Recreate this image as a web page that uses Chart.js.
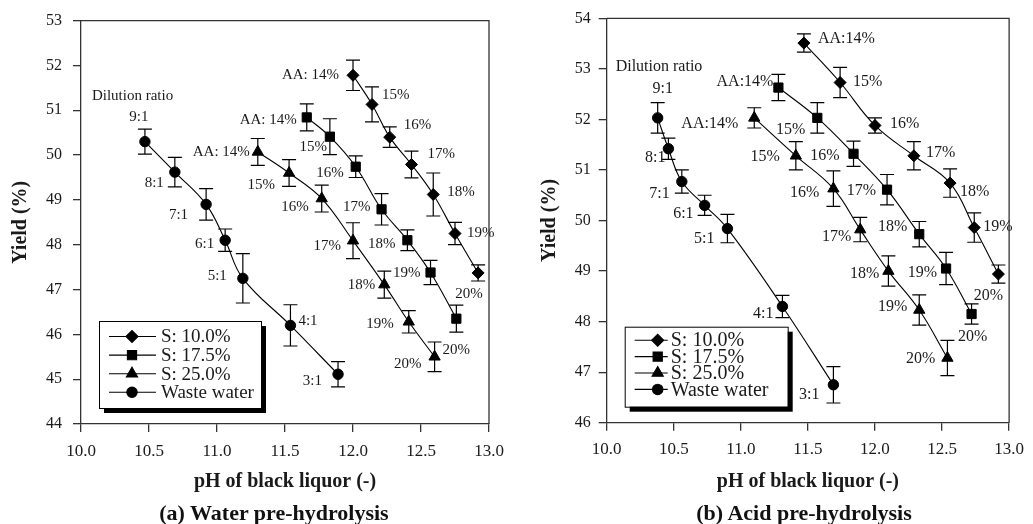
<!DOCTYPE html>
<html>
<head>
<meta charset="utf-8">
<script src="https://cdn.jsdelivr.net/npm/chart.js@4.4.1/dist/chart.umd.min.js"></script>
<style>
  body { margin: 0; background: #fff; width: 1033px; height: 524px; position: relative; overflow: hidden; font-family: "Liberation Serif", serif; }
  .panel { position: absolute; top: 0; height: 524px; }
  .cap { position: absolute; top: 499px; width: 300px; text-align: center; font-weight: bold; font-size: 22px; line-height: 28px; color: #111; }
</style>
</head>
<body>
<div class="panel" style="left:0;width:516px"><canvas id="water" width="516" height="524"></canvas></div>
<div class="panel" style="left:516px;width:517px"><canvas id="acid" width="517" height="524"></canvas></div>
<div class="cap" style="left:124px">(a) Water pre-hydrolysis</div>
<div class="cap" style="left:654px">(b) Acid pre-hydrolysis</div>
<script>
// ---- data ----
const seriesNames = ['S: 10.0%', 'S: 17.5%', 'S: 25.0%', 'Waste water'];
const aaLabelsWater = ['AA: 14%', '15%', '16%', '17%', '18%', '19%', '20%'];
const aaLabelsAcid = ['AA:14%', '15%', '16%', '17%', '18%', '19%', '20%'];
const dilutionLabels = ['9:1', '8:1', '7:1', '6:1', '5:1', '4:1', '3:1'];

// (a) water pre-hydrolysis
const waterPhS10 = [12.00, 12.14, 12.27, 12.43, 12.59, 12.75, 12.92];
const waterYieldS10 = [51.78, 51.13, 50.40, 49.79, 49.12, 48.25, 47.37];
const waterErrS10 = [0.34, 0.39, 0.23, 0.30, 0.48, 0.25, 0.18];
const waterPhS175 = [11.66, 11.83, 12.02, 12.21, 12.40, 12.57, 12.76];
const waterYieldS175 = [50.84, 50.41, 49.74, 48.79, 48.10, 47.38, 46.35];
const waterErrS175 = [0.30, 0.40, 0.24, 0.35, 0.23, 0.27, 0.30];
const waterPhS25 = [11.30, 11.53, 11.77, 12.00, 12.23, 12.41, 12.60];
const waterYieldS25 = [50.07, 49.60, 49.03, 48.09, 47.11, 46.28, 45.50];
const waterErrS25 = [0.30, 0.30, 0.30, 0.40, 0.30, 0.25, 0.33];
const waterPhWaste = [10.47, 10.69, 10.92, 11.06, 11.19, 11.54, 11.89];
const waterYieldWaste = [50.30, 49.62, 48.90, 48.10, 47.25, 46.20, 45.11];
const waterErrWaste = [0.28, 0.33, 0.35, 0.25, 0.55, 0.46, 0.28];

// (b) acid pre-hydrolysis
const acidPhS10 = [11.47, 11.74, 12.00, 12.29, 12.56, 12.74, 12.92];
const acidYieldS10 = [53.51, 52.73, 51.88, 51.28, 50.74, 49.86, 48.94];
const acidErrS10 = [0.18, 0.30, 0.15, 0.28, 0.28, 0.29, 0.18];
const acidPhS175 = [11.28, 11.57, 11.84, 12.09, 12.33, 12.53, 12.72];
const acidYieldS175 = [52.63, 52.03, 51.32, 50.61, 49.73, 49.05, 48.15];
const acidErrS175 = [0.26, 0.30, 0.25, 0.30, 0.25, 0.32, 0.20];
const acidPhS25 = [11.10, 11.41, 11.69, 11.89, 12.10, 12.33, 12.54];
const acidYieldS25 = [52.03, 51.28, 50.63, 49.82, 49.00, 48.23, 47.28];
const acidErrS25 = [0.20, 0.28, 0.35, 0.24, 0.30, 0.30, 0.35];
const acidPhWaste = [10.38, 10.46, 10.56, 10.73, 10.90, 11.31, 11.69];
const acidYieldWaste = [52.03, 51.42, 50.77, 50.30, 49.84, 48.30, 46.75];
const acidErrWaste = [0.30, 0.21, 0.23, 0.20, 0.28, 0.22, 0.36];

const xTicksMin = 10, xTicksMax = 13, xStep = 0.5;

// ---- label placement (pixel offsets from each point) ----
const waterPos = [
  [[-14, 0, 'right'], [10, -9, 'left'], [14, -12, 'left'], [16, -10, 'left'], [14, -2, 'left'], [12, 0, 'left'], [-9, 21, 'center']],
  [[-10, 3, 'right'], [-3, 10, 'right'], [-12, 6, 'right'], [-11, -2, 'right'], [-12, 4, 'right'], [-10, 1, 'right'], [0, 31, 'center']],
  [[-8, 0, 'right'], [-14, 12, 'right'], [-13, 9, 'right'], [-12, 5, 'right'], [-9, 0, 'right'], [-15, 2, 'right'], [-13, 7, 'right']],
  [[-6, -25, 'center'], [-11, 11, 'right'], [-18, 11, 'right'], [-11, 4, 'right'], [-16, -2, 'right'], [8, -4, 'left'], [-16, 7, 'right']]
];
const acidPos = [
  [[14, -4, 'left'], [13, -1, 'left'], [15, -2, 'left'], [12, -3, 'left'], [10, 9, 'left'], [9, -1, 'left'], [-10, 22, 'center']],
  [[-5, -6, 'right'], [-12, 12, 'right'], [-14, 2, 'right'], [-11, 1, 'right'], [-12, -7, 'right'], [-9, 4, 'right'], [1, 23, 'center']],
  [[-16, 6, 'right'], [-16, 1, 'right'], [-14, 4, 'right'], [-9, 7, 'right'], [-9, 3, 'right'], [-12, -3, 'right'], [-12, 1, 'right']],
  [[5, -29, 'center'], [-3, 9, 'right'], [-12, 12, 'right'], [-11, 8, 'right'], [-13, 10, 'right'], [-9, 7, 'right'], [-14, 10, 'right']]
];

const markers = [
  { style: 'rectRot', r: 6 },
  { style: 'rect', r: 6.5 },
  { style: 'triangle', r: 6.5 },
  { style: 'circle', r: 5.2 }
];

Chart.defaults.font.family = '"Liberation Serif", "Times New Roman", serif';
Chart.defaults.color = '#1a1a1a';

function makeDataset(i, xs, ys, errs, labels, pos) {
  return {
    label: seriesNames[i],
    data: xs.map((x, j) => ({ x: x, y: ys[j] })),
    errors: errs,
    pointLabels: labels,
    labelPos: pos,
    borderColor: '#000',
    borderWidth: 1.1,
    backgroundColor: '#000',
    pointBackgroundColor: '#000',
    pointBorderColor: '#000',
    pointBorderWidth: 1,
    pointStyle: markers[i].style,
    pointRadius: markers[i].r,
    tension: 0.4,
    fill: false
  };
}

// error bars, point labels, frame and boxed legend
const annotatePlugin = {
  id: 'annotate',
  beforeDatasetsDraw(chart) {
    const ctx = chart.ctx;
    const ys = chart.scales.y;
    const cap = chart.options.plugins.annotate.cap;
    ctx.save();
    ctx.strokeStyle = '#000';
    ctx.lineWidth = 1.2;
    chart.data.datasets.forEach((ds, i) => {
      chart.getDatasetMeta(i).data.forEach((pt, j) => {
        const v = ds.data[j];
        const t = ys.getPixelForValue(v.y + ds.errors[j]);
        const b = ys.getPixelForValue(v.y - ds.errors[j]);
        ctx.beginPath();
        ctx.moveTo(pt.x, t); ctx.lineTo(pt.x, b);
        ctx.moveTo(pt.x - cap, t); ctx.lineTo(pt.x + cap, t);
        ctx.moveTo(pt.x - cap, b); ctx.lineTo(pt.x + cap, b);
        ctx.stroke();
      });
    });
    ctx.restore();
  },
  afterDatasetsDraw(chart) {
    const o = chart.options.plugins.annotate;
    const ctx = chart.ctx;
    const area = chart.chartArea;
    ctx.save();
    // top and right frame
    ctx.strokeStyle = '#333';
    ctx.lineWidth = 1.3;
    ctx.beginPath();
    ctx.moveTo(area.left, area.top);
    ctx.lineTo(area.right, area.top);
    ctx.lineTo(area.right, area.bottom);
    ctx.stroke();

    // point labels
    ctx.fillStyle = '#1a1a1a';
    ctx.textBaseline = 'middle';
    ctx.font = o.labelFont + 'px "Liberation Serif", serif';
    chart.data.datasets.forEach((ds, i) => {
      chart.getDatasetMeta(i).data.forEach((pt, j) => {
        const p = ds.labelPos[j];
        ctx.textAlign = p[2];
        ctx.fillText(ds.pointLabels[j], pt.x + p[0], pt.y + p[1]);
      });
    });
    // "Dilution ratio" note above the waste water series
    const first = chart.getDatasetMeta(3).data[0];
    ctx.textAlign = 'left';
    ctx.font = o.noteFont + 'px "Liberation Serif", serif';
    ctx.fillText('Dilution ratio', first.x + o.note[0], first.y + o.note[1]);

    // boxed legend with shadow
    const lg = o.legend;
    const bx = area.left + lg.x;
    const by = area.bottom - lg.gap - lg.h;
    ctx.fillStyle = '#000';
    ctx.fillRect(bx + 5, by + 5, lg.w, lg.h);
    ctx.fillStyle = '#fff';
    ctx.fillRect(bx, by, lg.w, lg.h);
    ctx.strokeStyle = '#000';
    ctx.lineWidth = 1;
    ctx.strokeRect(bx + 0.5, by + 0.5, lg.w, lg.h);
    ctx.font = lg.font + 'px "Liberation Serif", serif';
    ctx.textAlign = 'left';
    chart.data.datasets.forEach((ds, i) => {
      const y = by + lg.first + i * lg.row;
      ctx.strokeStyle = '#000';
      ctx.lineWidth = 1.1;
      ctx.beginPath();
      ctx.moveTo(bx + lg.line[0], y);
      ctx.lineTo(bx + lg.line[1], y);
      ctx.stroke();
      ctx.fillStyle = '#000';
      Chart.helpers.drawPoint(ctx, { pointStyle: ds.pointStyle, radius: ds.pointRadius, rotation: 0, borderWidth: 1 }, bx + lg.marker, y);
      ctx.fillStyle = '#1a1a1a';
      ctx.fillText(ds.label, bx + lg.text, y + 1);
    });
    ctx.restore();
  }
};

function makeChart(id, datasets, yMin, yMax, dims) {
  return new Chart(document.getElementById(id), {
    type: 'line',
    data: { datasets: datasets },
    options: {
      responsive: false,
      animation: false,
      layout: { padding: { left: 0, top: dims.top, right: dims.right, bottom: 0 } },
      scales: {
        x: {
          type: 'linear',
          min: xTicksMin,
          max: xTicksMax,
          afterFit(s) { s.height = dims.xHeight; },
          ticks: { stepSize: xStep, font: { size: 17 }, padding: 9, callback: v => v.toFixed(1) },
          grid: { drawOnChartArea: false, tickLength: 8, color: '#333', lineWidth: 1.3 },
          border: { color: '#333', width: 1.3 },
          title: { display: true, text: 'pH of black liquor (-)', font: { size: 20, weight: 'bold' }, padding: { top: 0, bottom: 30 } }
        },
        y: {
          min: yMin,
          max: yMax,
          afterFit(s) { s.width = dims.yWidth; },
          ticks: { stepSize: 1, font: { size: 16 }, padding: dims.yPad },
          grid: { drawOnChartArea: false, tickLength: 8, color: '#333', lineWidth: 1.3 },
          border: { color: '#333', width: 1.3 },
          title: { display: true, text: 'Yield (%)', font: { size: 20, weight: 'bold' }, padding: { top: dims.titleX, bottom: 0 } }
        }
      },
      plugins: {
        legend: { display: false },
        tooltip: { enabled: false },
        annotate: {
          cap: 7,
          labelFont: dims.labelFont,
          noteFont: dims.labelFont,
          note: dims.note,
          legend: dims.legend
        }
      }
    },
    plugins: [annotatePlugin]
  });
}

const waterSets = [
  makeDataset(0, waterPhS10, waterYieldS10, waterErrS10, aaLabelsWater, waterPos[0]),
  makeDataset(1, waterPhS175, waterYieldS175, waterErrS175, aaLabelsWater, waterPos[1]),
  makeDataset(2, waterPhS25, waterYieldS25, waterErrS25, aaLabelsWater, waterPos[2]),
  makeDataset(3, waterPhWaste, waterYieldWaste, waterErrWaste, dilutionLabels, waterPos[3])
];
const acidSets = [
  makeDataset(0, acidPhS10, acidYieldS10, acidErrS10, aaLabelsAcid, acidPos[0]),
  makeDataset(1, acidPhS175, acidYieldS175, acidErrS175, aaLabelsAcid, acidPos[1]),
  makeDataset(2, acidPhS25, acidYieldS25, acidErrS25, aaLabelsAcid, acidPos[2]),
  makeDataset(3, acidPhWaste, acidYieldWaste, acidErrWaste, dilutionLabels, acidPos[3])
];

makeChart('water', waterSets, 44, 53, {
  top: 18, right: 27, xHeight: 100, yWidth: 81, yPad: 11, titleX: 9, labelFont: 15,
  note: [-53, -46],
  legend: { x: 18, gap: 16, w: 162, h: 87, first: 15.5, row: 18.6, line: [10, 57], marker: 33, text: 62, font: 19 }
});
makeChart('acid', acidSets, 46, 54, {
  top: 18.3, right: 18.7, xHeight: 101.3, yWidth: 90.7, yPad: 8, titleX: 22, labelFont: 16,
  note: [-42, -51],
  legend: { x: 18, gap: 16, w: 163, h: 80, first: 13.5, row: 16.4, line: [10, 43], marker: 33, text: 46, font: 20 }
});
</script>
</body>
</html>
